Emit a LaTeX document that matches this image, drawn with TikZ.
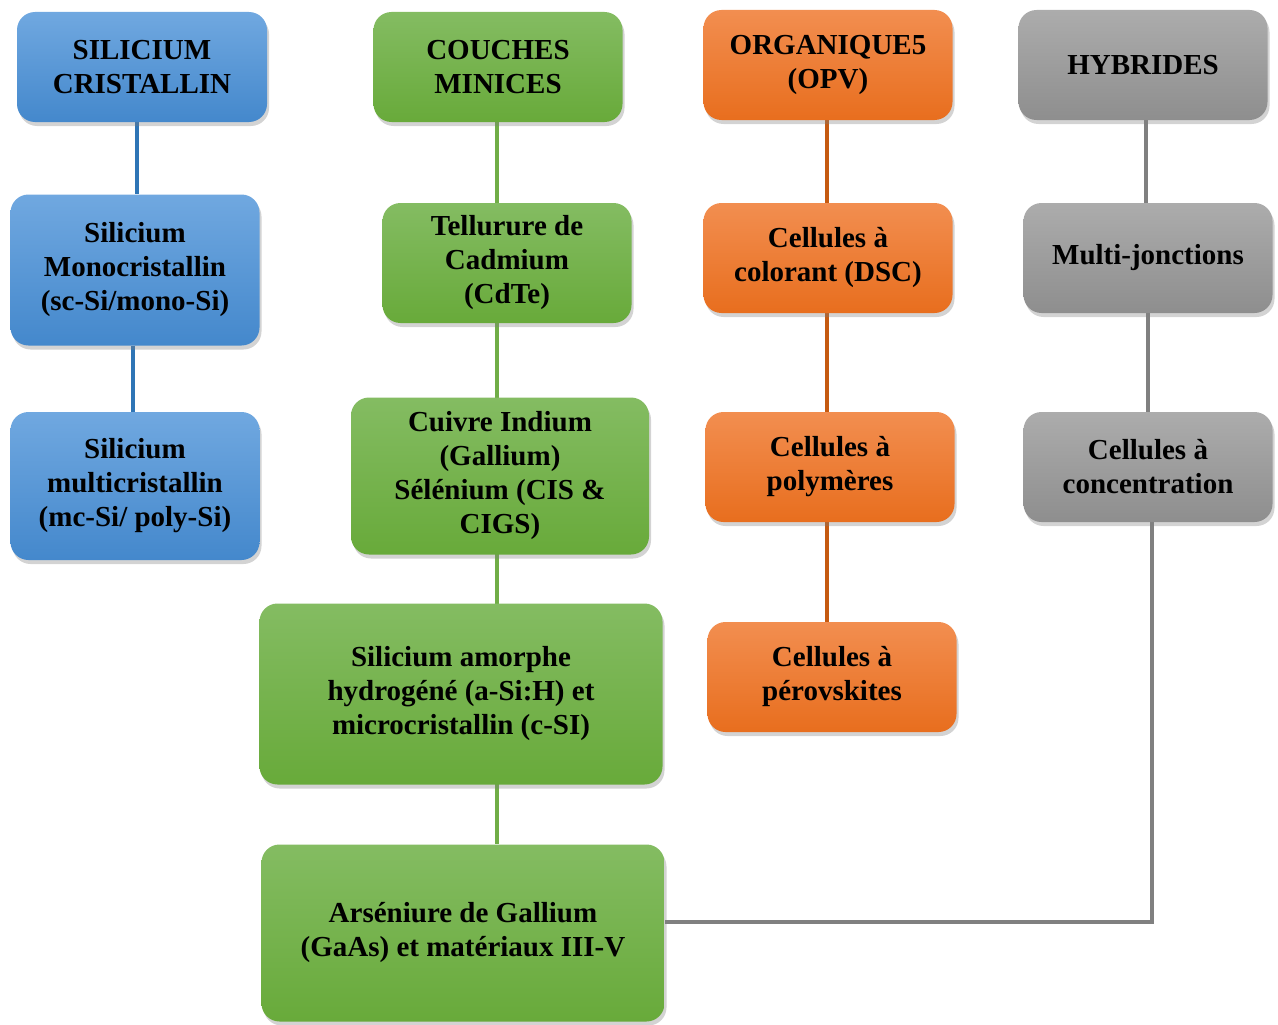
\documentclass[tikz,border=0pt]{standalone}
\usepackage{fontspec}
\setmainfont{Liberation Serif}
\usetikzlibrary{shadows,backgrounds}
\definecolor{blueT}{RGB}{112,168,224}
\definecolor{blueB}{RGB}{68,136,204}
\definecolor{blueL}{RGB}{46,117,182}
\definecolor{greenT}{RGB}{132,188,98}
\definecolor{greenB}{RGB}{104,170,58}
\definecolor{greenL}{RGB}{112,173,71}
\definecolor{orangeT}{RGB}{242,142,80}
\definecolor{orangeB}{RGB}{232,110,30}
\definecolor{orangeL}{RGB}{197,90,17}
\definecolor{grayT}{RGB}{172,172,172}
\definecolor{grayB}{RGB}{142,142,142}
\definecolor{grayL}{RGB}{128,128,128}
\tikzset{
  box/.style={rectangle, rounded corners=18pt, inner sep=0pt, align=center,
    font=\fontsize{29}{34}\selectfont\bfseries,
    drop shadow={opacity=0.35, shadow xshift=2pt, shadow yshift=-4pt}},
  bluebox/.style={box, top color=blueT, bottom color=blueB},
  greenbox/.style={box, top color=greenT, bottom color=greenB},
  orangebox/.style={box, top color=orangeT, bottom color=orangeB},
  graybox/.style={box, top color=grayT, bottom color=grayB},
  bline/.style={line width=3.5pt, draw=blueL},
  gline/.style={line width=3.5pt, draw=greenL},
  oline/.style={line width=3.5pt, draw=orangeL},
  hline/.style={line width=3.5pt, draw=grayL},
}
\begin{document}
\begin{tikzpicture}[x=1pt,y=-1pt]
\useasboundingbox (0,0) rectangle (1278,1025);
% blue
\node[bluebox, minimum width=250pt, minimum height=110pt] (B1) at (142,67) {SILICIUM\\CRISTALLIN};
\node[bluebox, minimum width=249pt, minimum height=151pt] (B2) at (135,270) {Silicium\\Monocristallin\\(sc-Si/mono-Si)};
\node[bluebox, minimum width=249pt, minimum height=148pt] (B3) at (135,486) {Silicium\\multicristallin\\(mc-Si/ poly-Si)};
% green
\node[greenbox, minimum width=249pt, minimum height=110pt] (G1) at (498,67) {COUCHES\\MINICES};
\node[greenbox, minimum width=249pt, minimum height=120pt] (G2) at (507,263) {Tellurure de\\Cadmium\\(CdTe)};
\node[greenbox, minimum width=298pt, minimum height=157pt] (G3) at (500,476) {Cuivre Indium\\(Gallium)\\Sélénium (CIS \&\\CIGS)};
\node[greenbox, minimum width=403pt, minimum height=181pt] (G4) at (461,694) {Silicium amorphe\\hydrogéné (a-Si:H) et\\microcristallin (c-SI)};
\node[greenbox, minimum width=403pt, minimum height=177pt] (G5) at (463,933) {Arséniure de Gallium\\(GaAs) et matériaux III-V};
% orange
\node[orangebox, minimum width=249pt, minimum height=110pt] (O1) at (828,65) {ORGANIQUE5\\(OPV)};
\node[orangebox, minimum width=249pt, minimum height=110pt] (O2) at (828,258) {Cellules à\\colorant (DSC)};
\node[orangebox, minimum width=249pt, minimum height=110pt] (O3) at (830,467) {Cellules à\\polymères};
\node[orangebox, minimum width=249pt, minimum height=110pt] (O4) at (832,677) {Cellules à\\pérovskites};
% gray
\node[graybox, minimum width=249pt, minimum height=110pt] (H1) at (1143,65) {HYBRIDES};
\node[graybox, minimum width=249pt, minimum height=110pt] (H2) at (1148,258) {Multi-jonctions};
\node[graybox, minimum width=249pt, minimum height=110pt] (H3) at (1148,467) {Cellules à\\concentration};
\begin{scope}[on background layer]
\draw[bline] ([xshift=-5pt]B1.south) -- ([xshift=2pt]B2.north);
\draw[bline] ([xshift=-2pt]B2.south) -- ([xshift=-2pt]B3.north);
\draw[gline] ([xshift=-1pt]G1.south) -- ([xshift=-1pt]G1.south |- G5.north);
\draw[oline] ([xshift=-1pt]O1.south) -- ([xshift=-1pt]O1.south |- O4.north);
\draw[hline] ([xshift=3pt]H1.south) -- ([xshift=-2pt]H2.north);
\draw[hline] (H2.south) -- (H3.south);
\draw[hline] ([xshift=4pt]H3.south) |- ([yshift=11pt]G5.east);
\end{scope}
\end{tikzpicture}
\end{document}
